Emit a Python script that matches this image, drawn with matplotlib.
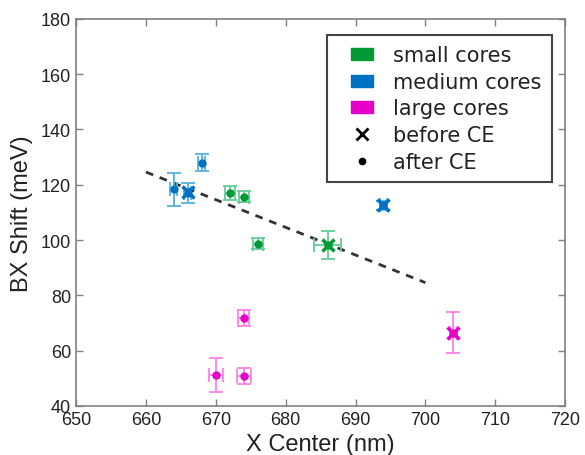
import matplotlib.pyplot as plt
from matplotlib.lines import Line2D

# data (nm, meV)
small_x = [672, 674, 676, 686]
small_y = [117.0, 115.7, 98.6, 98.3]
small_yerr = [2.5, 2.0, 2.0, 5.0]
small_xerr = [0.7, 0.7, 0.7, 1.9]
small_before_x = [686]
small_before_y = [98.3]

medium_x = [664, 666, 668, 694]
medium_y = [118.3, 117.0, 128.0, 112.5]
medium_yerr = [6.0, 3.7, 3.0, 1.5]
medium_xerr = [0.5, 0.5, 0.5, 0.5]
medium_before_x = [666, 694]
medium_before_y = [117.3, 112.5]

large_x = [670, 674, 674, 704]
large_y = [51.2, 50.8, 71.8, 66.5]
large_yerr = [6.0, 3.0, 3.0, 7.4]
large_xerr = [1.0, 1.0, 0.8, 0.5]
large_before_x = [704]
large_before_y = [66.5]

fit_x = [660, 700]
fit_y = [124.6, 84.6]

groups = [
    ("small cores", "#009933", "#66cc99", small_x, small_y, small_xerr, small_yerr, small_before_x, small_before_y),
    ("medium cores", "#0070c0", "#55b0e0", medium_x, medium_y, medium_xerr, medium_yerr, medium_before_x, medium_before_y),
    ("large cores", "#e600c8", "#ff80e6", large_x, large_y, large_xerr, large_yerr, large_before_x, large_before_y),
]

plt.rcParams['font.family'] = ['Liberation Sans', 'DejaVu Sans']

fig = plt.figure(figsize=(5.85, 4.56), dpi=100)
ax = fig.add_axes([0.130, 0.1075, 0.836, 0.849])

for label, dark, light, x, y, xe, ye, bx, by in groups:
    ax.errorbar(x, y, xerr=xe, yerr=ye, fmt='none', ecolor=light, elinewidth=1.3,
                capsize=5, capthick=1.3, zorder=2)
    ax.plot(x, y, 'o', color=dark, markersize=5, zorder=3)
    ax.plot(bx, by, 'x', color=dark, markersize=8, markeredgewidth=2.5, zorder=4)

line, = ax.plot(fit_x, fit_y, '--', color='#333333', linewidth=2, zorder=1)
line.set_dashes([2.8, 2.5])

ax.set_xlim(650, 720)
ax.set_ylim(40, 180)
ax.set_xticks(range(650, 721, 10))
ax.set_yticks(range(40, 181, 20))
ax.tick_params(direction='in', top=True, right=True, length=5, width=1,
               color='#808080', labelsize=13, labelcolor='#222222', pad=3.5)
for s in ax.spines.values():
    s.set_color('#808080')
    s.set_linewidth(1.2)

ax.set_xlabel('X Center (nm)', fontsize=17, color='#222222', labelpad=4)
ax.set_ylabel('BX Shift (meV)', fontsize=17, color='#222222', labelpad=6)

rect = [(-11, -6), (11, -6), (11, 6), (-11, 6), (-11, -6)]
handles = [Line2D([], [], linestyle='none', marker=rect, markersize=16,
                  markerfacecolor=g[1], markeredgecolor=g[1]) for g in groups]
handles += [Line2D([], [], linestyle='none', marker='x', color='black', markersize=9, markeredgewidth=2),
            Line2D([], [], linestyle='none', marker='.', color='black', markersize=9)]
labels = [g[0] for g in groups] + ['before CE', 'after CE']
leg = ax.legend(handles, labels, loc='upper right', bbox_to_anchor=(0.973, 0.959),
                prop={'family': 'DejaVu Sans', 'size': 15}, frameon=True, fancybox=False,
                framealpha=1, edgecolor='#444444', labelspacing=0.32, handlelength=2.3,
                handletextpad=0.35, borderpad=0.5, borderaxespad=0)
leg.get_frame().set_linewidth(1.5)
for t in leg.get_texts():
    t.set_color('#222222')

fig.savefig('out.png', dpi=100)
